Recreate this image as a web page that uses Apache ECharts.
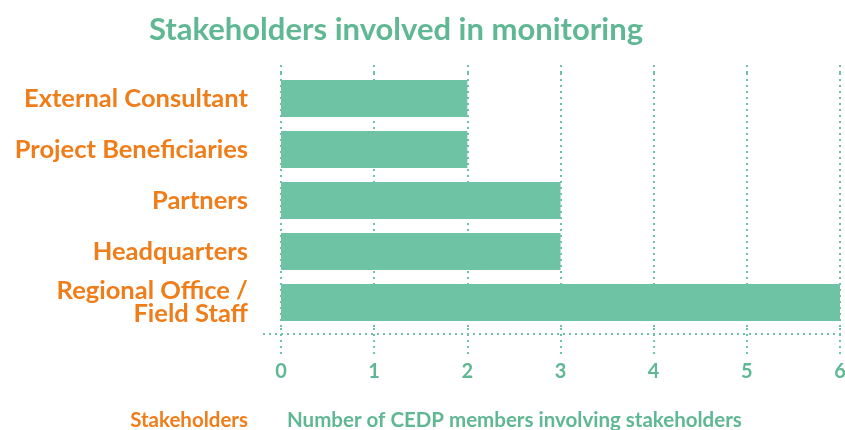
<!DOCTYPE html>
<html>
<head>
<meta charset="utf-8">
<script src="https://cdn.jsdelivr.net/npm/echarts@6/dist/echarts.min.js"></script>
<style>
html, body { margin: 0; padding: 0; background: #fff; }
#chart { width: 845px; height: 430px; }
</style>
</head>
<body>
<div id="chart"></div>
<script>
// stakeholder categories, top to bottom
const stakeholders = ['External Consultant', 'Project Beneficiaries', 'Partners', 'Headquarters', 'Regional Office /\nField Staff'];
const members = [2, 2, 3, 3, 6];
const xTicks = [0, 1, 2, 3, 4, 5, 6];

const green = '#6fc3a5';
const greenText = '#5fb893';
const orange = '#ef7d1a';
const font = 'Lato';

const dotted = { color: green, width: 2, type: [2, 4] };

const myChart = echarts.init(document.getElementById('chart'));
const option = {
    textStyle: { fontFamily: font },
    title: [{
        text: 'Stakeholders involved in monitoring',
        left: 396,
        top: 14,
        padding: 0,
        textAlign: 'center',
        textStyle: { color: greenText, fontSize: 31, fontWeight: 'bold', fontFamily: font }
    }, {
        text: 'Stakeholders',
        right: 597,
        top: 410,
        padding: 0,
        textStyle: { color: orange, fontSize: 20.5, fontWeight: 'bold', fontFamily: font }
    }, {
        text: 'Number of CEDP members involving stakeholders',
        left: 287,
        top: 410,
        padding: 0,
        textStyle: { color: greenText, fontSize: 20.5, fontWeight: 'bold', fontFamily: font }
    }],
    grid: {
        left: 281,
        right: 5,
        top: 73,
        bottom: 102,
        outerBoundsMode: 'none'
    },
    xAxis: [{
        type: 'value',
        min: 0,
        max: 6,
        interval: 1,
        position: 'bottom',
        axisLine: { show: false },
        axisTick: { show: true, length: 27, lineStyle: dotted },
        axisLabel: {
            margin: 34,
            color: greenText,
            fontSize: 20,
            fontWeight: 'bold',
            formatter: v => xTicks.indexOf(v) >= 0 ? String(v) : ''
        },
        splitLine: { show: true, lineStyle: dotted }
    }, {
        type: 'value',
        min: 0,
        max: 6,
        interval: 1,
        position: 'top',
        axisLine: { show: false },
        axisTick: { show: true, length: 11, lineStyle: dotted },
        axisLabel: { show: false },
        splitLine: { show: false }
    }],
    yAxis: {
        type: 'category',
        inverse: true,
        data: stakeholders,
        axisLine: { show: false },
        axisTick: { show: false },
        axisLabel: {
            margin: 33,
            color: orange,
            fontSize: 25.5,
            fontWeight: 'bold',
            lineHeight: 23,
            align: 'right'
        }
    },
    graphic: [{
        type: 'line',
        shape: { x1: 263, y1: 334, x2: 845, y2: 334 },
        style: { stroke: green, lineWidth: 2, lineDash: [2, 4] },
        silent: true
    }],
    series: [{
        name: 'Members',
        type: 'bar',
        xAxisIndex: 0,
        barWidth: 37,
        itemStyle: { color: green },
        data: members
    }]
};
myChart.setOption(option);
</script>
</body>
</html>
